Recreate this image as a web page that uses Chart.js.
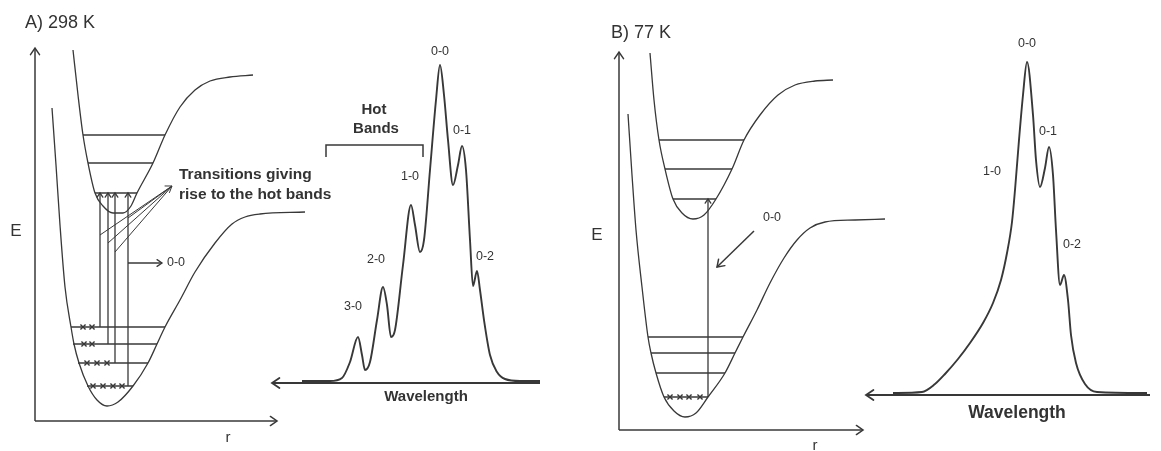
<!DOCTYPE html>
<html><head><meta charset="utf-8">
<script src="https://cdn.jsdelivr.net/npm/chart.js@4.4.1/dist/chart.umd.min.js"></script>
<style>html,body{margin:0;padding:0;background:#fff;}#wrap{position:relative;width:1161px;height:451px;}</style>
</head><body><div id="wrap"><canvas id="c" width="1161" height="451"></canvas></div>
<script>
// ---------- Panel A (298 K) potential curves: [r, E] ----------
const upperA = [[38,371],[43,326],[48,286],[53,258],[60,228],[68,215],[78,208],[88,208],[96,215],[102,228],[118,258],[130,286],[145,314],[160,331],[175,340],[195,344],[218,346]];
const lowerA = [[17,313],[21,256],[25,196],[30,134],[36,94],[39,77],[44,58],[53,35],[62,21],[72,15],[83,19],[98,35],[113,58],[122,77],[130,94],[145,121],[160,149],[180,178],[197,197],[210,204],[225,207],[270,209]];
const upperLevelsA = [[48,130,286],[53,118,258],[60,102,228]];      // [rLeft, rRight, E]
const lowerLevelsA = [[36,130,94],[38,122,77],[43,113,58],[52,98,35]];
const populationA = [[48,94],[57,94],[49,77],[57,77],[52,58],[62,58],[72,58],[58,35],[68,35],[78,35],[87,35]];
const transitionsA = [[65,94,228],[73,77,228],[80,58,228],[93,35,228]]; // [r, Efrom, Eto]
const pointersA = [[65,186],[73,178],[80,169],[93,203]];
const pointerTipA = [137,235];
const zeroArrowA = [[93,158],[127,158]];

// ---------- Panel A spectrum: [wavelength position, intensity] ----------
const spectrumA = [[30,2],[58,2],[70,5],[78,21],[86,46],[90,28],[93,13],[98,21],[105,63],[111,96],[115,78],[119,46],[123,53],[131,118],[139,178],[143,158],[148,131],[152,143],[158,213],[164,283],[168,318],[172,288],[176,243],[181,198],[186,218],[190,237],[194,213],[198,143],[201,97],[205,112],[208,93],[212,63],[218,28],[225,11],[233,4],[248,2],[268,2]];
const peakLabelsA = ["0-0","0-1","1-0","2-0","3-0","0-2"];
const hotBracketA = [[54,226],[54,238],[151,238],[151,226]];

// ---------- Panel B (77 K) potential curves ----------
const upperB = [[31,377],[35,330],[40,290],[46,261],[54,231],[63,217],[74,211],[85,215],[97,231],[113,261],[125,290],[141,315],[159,335],[176,345],[196,349],[214,350]];
const lowerB = [[9,316],[13,255],[17,200],[23,143],[29,93],[32,77],[37,57],[45,33],[55,19],[66,13],[77,17],[89,33],[106,57],[116,77],[124,93],[138,120],[151,147],[165,172],[178,190],[191,202],[206,208],[236,210],[266,211]];
const upperLevelsB = [[40,125,290],[46,113,261],[54,97,231]];
const lowerLevelsB = [[29,124,93],[32,116,77],[37,106,57],[45,89,33]];
const populationB = [[51,33],[61,33],[70,33],[81,33]];
const transitionB = [89,33,231];
const zeroArrowB = [[135,199],[98,163]];

// ---------- Panel B spectrum ----------
const spectrumB = [[27,2],[56,3],[69,11],[79,21],[92,36],[104,52],[117,72],[127,92],[135,115],[141,142],[146,173],[149,205],[153,255],[157,300],[161,333],[167,280],[170,235],[174,208],[179,227],[183,248],[187,220],[190,165],[194,110],[198,120],[202,95],[205,60],[210,32],[219,11],[231,3],[281,2]];
const peakLabelsB = ["0-0","0-1","1-0","0-2"];

// ---------- axes of the panels ----------
const axisA = {E:373, r:242};
const axisB = {E:378, r:244};
const baseA = 268, baseB = 284;

// ================= build =================
const INK = '#383838';
const P = a => a.map(([x,y]) => ({x, y}));
const ds = [];
function line(data, fx, fy, opt={}) {
  ds.push(Object.assign({type:'scatter', data:P(data), xAxisID:fx, yAxisID:fy, showLine:true, pointRadius:0,
    borderColor:INK, borderWidth:1.3, tension:0, fill:false}, opt));
}
function curve(data, fx, fy, w) { line(data, fx, fy, {cubicInterpolationMode:'monotone', borderWidth:w}); }

// panel A
line([[0,0],[0,axisA.E]], 'mAx','mAy',{borderWidth:1.5, arrow:8});
line([[0,0],[axisA.r,0]], 'mAx','mAy',{borderWidth:1.5, arrow:8});
curve(upperA,'mAx','mAy',1.3);
curve(lowerA,'mAx','mAy',1.3);
upperLevelsA.concat(lowerLevelsA).forEach(([a,b,e]) => line([[a,e],[b,e]],'mAx','mAy'));
transitionsA.forEach(([r,e0,e1]) => line([[r,e0],[r,e1]],'mAx','mAy',{arrow:5}));
pointersA.forEach((p,i) => line([p,pointerTipA],'mAx','mAy',{borderWidth:1, arrow: i===0?7:0}));
line(zeroArrowA,'mAx','mAy',{arrow:6});
ds.push({type:'scatter', data:P(populationA), xAxisID:'mAx', yAxisID:'mAy', pointStyle:'crossRot', pointRadius:3.6, borderColor:INK, borderWidth:1.4, showLine:false});

// spectrum A
line([[baseA,0],[0,0]],'sAx','sAy',{borderWidth:1.8, arrow:9});
curve(spectrumA,'sAx','sAy',1.9);
line(hotBracketA,'sAx','sAy',{borderWidth:1.5});

// panel B
line([[0,0],[0,axisB.E]], 'mBx','mBy',{borderWidth:1.5, arrow:8});
line([[0,0],[axisB.r,0]], 'mBx','mBy',{borderWidth:1.5, arrow:8});
curve(upperB,'mBx','mBy',1.3);
curve(lowerB,'mBx','mBy',1.3);
upperLevelsB.concat(lowerLevelsB).forEach(([a,b,e]) => line([[a,e],[b,e]],'mBx','mBy'));
line([[transitionB[0],transitionB[1]],[transitionB[0],transitionB[2]]],'mBx','mBy',{arrow:5});
line(zeroArrowB,'mBx','mBy',{borderWidth:1.5, arrow:8});
ds.push({type:'scatter', data:P(populationB), xAxisID:'mBx', yAxisID:'mBy', pointStyle:'crossRot', pointRadius:3.6, borderColor:INK, borderWidth:1.4, showLine:false});

// spectrum B
line([[baseB,0],[0,0]],'sBx','sBy',{borderWidth:1.8, arrow:9});
curve(spectrumB,'sBx','sBy',1.9);

// ---------- texts (frame, x, y, text, font, align) ----------
const texts = [
  ['mA',-10,398,'A) 298 K','18px "Liberation Sans", Arial','left'],
  ['mA',-19,190,'E','17px "Liberation Sans", Arial','center'],
  ['mA',193,-17,'r','15px "Liberation Sans", Arial','center'],
  ['mA',144,246,'Transitions giving','bold 15.5px "Liberation Sans", Arial','left'],
  ['mA',144,226,'rise to the hot bands','bold 15.5px "Liberation Sans", Arial','left'],
  ['mA',132,158,'0-0','12.5px "Liberation Sans", Arial','left'],
  ['sA',168,331,peakLabelsA[0],'12.5px "Liberation Sans", Arial','center'],
  ['sA',190,252,peakLabelsA[1],'12.5px "Liberation Sans", Arial','center'],
  ['sA',138,206,peakLabelsA[2],'12.5px "Liberation Sans", Arial','center'],
  ['sA',104,123,peakLabelsA[3],'12.5px "Liberation Sans", Arial','center'],
  ['sA',81,76,peakLabelsA[4],'12.5px "Liberation Sans", Arial','center'],
  ['sA',213,126,peakLabelsA[5],'12.5px "Liberation Sans", Arial','center'],
  ['sA',102,273,'Hot','bold 15px "Liberation Sans", Arial','center'],
  ['sA',104,254,'Bands','bold 15px "Liberation Sans", Arial','center'],
  ['sA',154,-14,'Wavelength','bold 15px "Liberation Sans", Arial','center'],
  ['mB',-8,397,'B) 77 K','18px "Liberation Sans", Arial','left'],
  ['mB',-22,195,'E','17px "Liberation Sans", Arial','center'],
  ['mB',196,-16,'r','15px "Liberation Sans", Arial','center'],
  ['mB',153,212,'0-0','12.5px "Liberation Sans", Arial','center'],
  ['sB',161,351,peakLabelsB[0],'12.5px "Liberation Sans", Arial','center'],
  ['sB',182,263,peakLabelsB[1],'12.5px "Liberation Sans", Arial','center'],
  ['sB',126,223,peakLabelsB[2],'12.5px "Liberation Sans", Arial','center'],
  ['sB',206,150,peakLabelsB[3],'12.5px "Liberation Sans", Arial','center'],
  ['sB',151,-18,'Wavelength','bold 17.5px "Liberation Sans", Arial','center']
];

const decor = {
  id:'decor',
  afterDatasetsDraw(chart){
    const ctx = chart.ctx;
    ctx.save();
    chart.data.datasets.forEach((d,i) => {
      if (!d.arrow) return;
      const pts = chart.getDatasetMeta(i).data;
      const a = pts[pts.length-2], b = pts[pts.length-1];
      const ang = Math.atan2(b.y-a.y, b.x-a.x), L = d.arrow, s = 0.6;
      ctx.strokeStyle = INK; ctx.lineWidth = d.borderWidth; ctx.lineCap='round';
      ctx.beginPath();
      ctx.moveTo(b.x - L*Math.cos(ang-s), b.y - L*Math.sin(ang-s));
      ctx.lineTo(b.x, b.y);
      ctx.lineTo(b.x - L*Math.cos(ang+s), b.y - L*Math.sin(ang+s));
      ctx.stroke();
    });
    ctx.fillStyle = '#333'; ctx.textBaseline = 'middle';
    texts.forEach(([f,x,y,t,font,al]) => {
      const sx = chart.scales[f+'x'], sy = chart.scales[f+'y'];
      ctx.font = font; ctx.textAlign = al;
      ctx.fillText(t, sx.getPixelForValue(x), sy.getPixelForValue(y));
    });
    ctx.restore();
  }
};

const ax = (min,max,pos) => ({type:'linear', min, max, display:false, position:pos});
new Chart(document.getElementById('c'), {
  type:'scatter',
  data:{datasets:ds},
  options:{
    responsive:false, animation:false, events:[],
    layout:{padding:0, autoPadding:false},
    plugins:{legend:{display:false}, tooltip:{enabled:false}},
    scales:{
      mAx:ax(-35,1126,'bottom'), mAy:ax(-30,421,'left'),
      mBx:ax(-619,542,'bottom'), mBy:ax(-21,430,'left'),
      sAx:ax(-272,889,'bottom'), sAy:ax(-68,383,'left'),
      sBx:ax(-866,295,'bottom'), sBy:ax(-56,395,'left')
    }
  },
  plugins:[decor]
});
</script></body></html>
